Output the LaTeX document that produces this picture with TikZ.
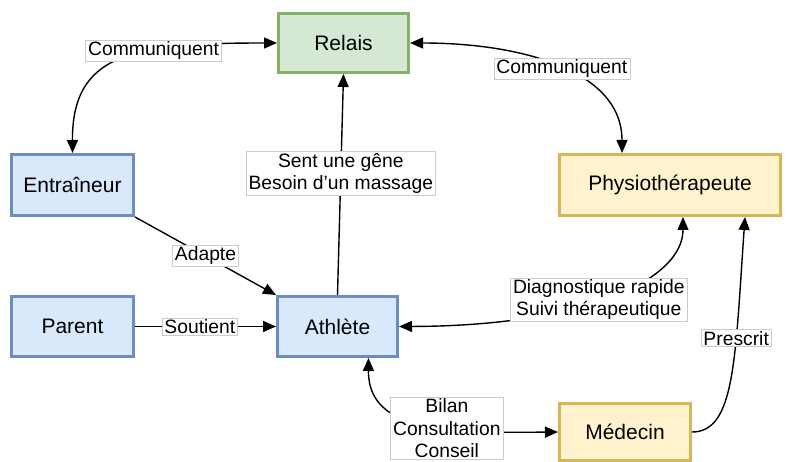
\documentclass[tikz,border=0pt]{standalone}
\usepackage{fontspec}
\setmainfont{Liberation Sans}
\usetikzlibrary{arrows.meta}
\definecolor{bluefill}{HTML}{DAE8FC}
\definecolor{bluedraw}{HTML}{6C8EBF}
\definecolor{greenfill}{HTML}{D5E8D4}
\definecolor{greendraw}{HTML}{82B366}
\definecolor{yellowfill}{HTML}{FFF2CC}
\definecolor{yellowdraw}{HTML}{D6B656}
\definecolor{lblborder}{HTML}{CCCCCC}
\tikzset{
  box/.style={rectangle, line width=3pt, inner sep=0pt, font=\fontsize{21}{25}\selectfont},
  bluebox/.style={box, fill=bluefill, draw=bluedraw},
  greenbox/.style={box, fill=greenfill, draw=greendraw},
  yellowbox/.style={box, fill=yellowfill, draw=yellowdraw},
  lbl/.style={fill=white, draw=lblborder, line width=0.6pt, inner xsep=2.5pt, inner ysep=1.5pt, align=center, font=\fontsize{19.3}{22.5}\selectfont},
  conn/.style={line width=1.4pt, draw=black, -{Triangle[length=13pt,width=11pt]}},
  conn2/.style={line width=1.4pt, draw=black, {Triangle[length=13pt,width=11pt]}-{Triangle[length=13pt,width=11pt]}}
}
\begin{document}
\begin{tikzpicture}[x=1pt,y=-1pt]
\useasboundingbox (0,0) rectangle (795,462);
\node[greenbox, minimum width=130pt, minimum height=59pt] (rel) at (343.5,43) {Relais};
\node[bluebox, minimum width=122pt, minimum height=61pt] (ent) at (72.5,185) {Entraîneur};
\node[yellowbox, minimum width=221pt, minimum height=61pt] (phy) at (670,185) {Physiothérapeute};
\node[bluebox, minimum width=122pt, minimum height=60pt] (par) at (72.5,326.5) {Parent};
\node[bluebox, minimum width=120pt, minimum height=60pt] (ath) at (337.5,326.5) {Athlète};
\node[yellowbox, minimum width=131pt, minimum height=57pt] (med) at (625,432) {Médecin};

\coordinate (phyA) at ([xshift=-48pt]phy.north);
\coordinate (phyB) at ([xshift=13pt]phy.south);
\coordinate (phyC) at ([xshift=75pt]phy.south);
\coordinate (athB) at ([xshift=31pt]ath.south);

\draw[conn2] (rel.west) .. controls (135,43) and (72,52) .. (ent.north)
  node[lbl, pos=0.36] (l1) {Communiquent};
\draw[conn2] (rel.east) .. controls (520,43) and (622,70) .. (phyA)
  node[lbl, pos=0.52] (l2) {Communiquent};
\draw[conn] (ent.south east) -- (ath.north west)
  node[lbl, pos=0.5] (l3) {Adapte};
\draw[conn] (par.east) -- (ath.west)
  node[lbl, pos=0.46] (l4) {Soutient};
\draw[conn] (ath.north) -- (rel.south)
  node[lbl, pos=0.55] (l5) {Sent une gêne\\Besoin d'un massage};
\draw[conn2] (ath.east) .. controls (585,326) and (683,280) .. (phyB)
  node[lbl, pos=0.46] (l6) {Diagnostique rapide\\Suivi thérapeutique};
\draw[conn] (med.east) .. controls (735,432) and (735,360) .. (phyC)
  node[lbl, pos=0.66] (l7) {Prescrit};
\draw[conn2] (athB) .. controls (368,433) and (450,433) .. (med.west)
  node[lbl, pos=0.61] (l8) {Bilan\\Consultation\\Conseil};
\end{tikzpicture}
\end{document}
